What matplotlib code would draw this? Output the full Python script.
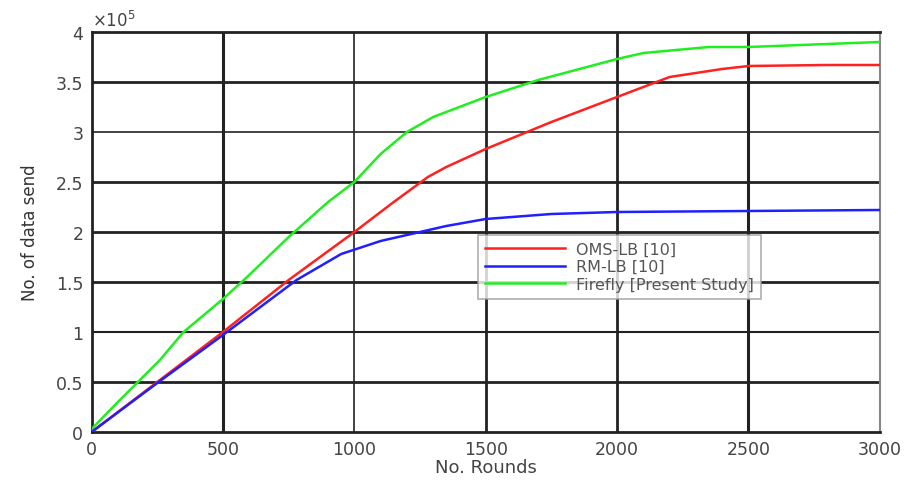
import numpy as np
import matplotlib.pyplot as plt

rounds_red = [0, 250, 500, 750, 1000, 1150, 1280, 1350, 1500, 1750, 2000, 2200, 2400, 2500, 2800, 3000]
oms_lb = [0, 0.5, 1.0, 1.52, 2.0, 2.3, 2.55, 2.65, 2.83, 3.1, 3.35, 3.55, 3.63, 3.66, 3.67, 3.67]

rounds_blue = [0, 250, 500, 780, 950, 1100, 1250, 1350, 1500, 1750, 2000, 2500, 3000]
rm_lb = [0, 0.49, 0.97, 1.52, 1.78, 1.91, 2.0, 2.06, 2.13, 2.18, 2.2, 2.21, 2.22]

rounds_green = [0, 100, 260, 350, 500, 600, 750, 900, 1000, 1100, 1200, 1300, 1500, 1700, 2000, 2100, 2350, 2500, 3000]
firefly = [0.03, 0.3, 0.72, 1.0, 1.33, 1.57, 1.95, 2.3, 2.5, 2.78, 3.0, 3.15, 3.35, 3.52, 3.73, 3.79, 3.85, 3.85, 3.9]

labels = ['OMS-LB [10]', 'RM-LB [10]', 'Firefly [Present Study]']
scale = 1e5

fig = plt.figure(figsize=(9.07, 4.81), dpi=100)
ax = fig.add_axes([0.101, 0.0998, 0.869, 0.8316])

# grid drawn by hand so widths can vary like the original
for xv, lw in zip([500, 1000, 1500, 2000, 2500], [2.2, 1.2, 2.0, 2.0, 2.2]):
    ax.axvline(xv, color='#222222', lw=lw, zorder=1)
for yv, lw in zip([0.5, 1, 1.5, 2, 2.5, 3, 3.5], [2.0, 1.5, 2.0, 2.0, 2.0, 1.2, 2.0]):
    ax.axhline(yv * scale, color='#222222', lw=lw, zorder=1)

ax.plot(rounds_red, np.array(oms_lb) * scale, color='#ff2020', lw=1.8, label=labels[0], zorder=3)
ax.plot(rounds_blue, np.array(rm_lb) * scale, color='#2020ff', lw=1.8, label=labels[1], zorder=3)
ax.plot(rounds_green, np.array(firefly) * scale, color='#20ee20', lw=1.8, label=labels[2], zorder=3)

ax.set_xlim(0, 3000)
ax.set_ylim(0, 4e5)
ax.set_xticks(np.arange(0, 3001, 500))
ax.set_yticks(np.arange(0, 4.01, 0.5) * scale)
ax.set_yticklabels(['0', '0.5', '1', '1.5', '2', '2.5', '3', '3.5', '4'])
ax.tick_params(length=0, labelsize=12.5, colors='#444444', pad=6)

for s in ['left', 'top', 'bottom']:
    ax.spines[s].set_color('#222222')
    ax.spines[s].set_linewidth(2)
ax.spines['right'].set_color('#888888')
ax.spines['right'].set_linewidth(1.5)

ax.text(0.0, 1.005, r'$\times10^5$', transform=ax.transAxes, fontsize=12,
        color='#444444', va='bottom', ha='left')

ax.set_xlabel('No. Rounds', fontsize=13, color='#444444', labelpad=0)
ax.set_ylabel('No. of data send', fontsize=12, color='#333333', labelpad=12)

leg = ax.legend(loc='lower left', bbox_to_anchor=(0.49, 0.333),
                frameon=True, fancybox=False, handlelength=5.0, borderaxespad=0,
                borderpad=0.45, labelspacing=0.15, handletextpad=0.7,
                prop={'family': 'DejaVu Sans', 'size': 11.5})
leg.get_frame().set_edgecolor('#999999')
leg.get_frame().set_linewidth(1.2)
for t in leg.get_texts():
    t.set_color('#555555')

fig.savefig('out.png', dpi=100)
